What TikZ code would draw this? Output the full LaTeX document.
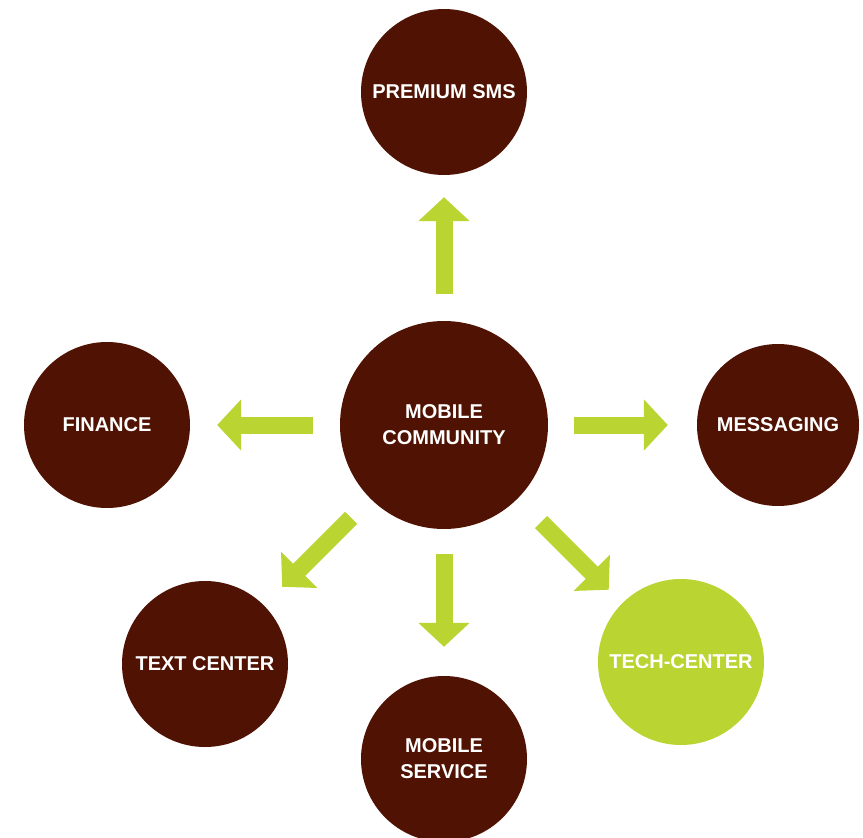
\documentclass[tikz,border=0pt]{standalone}
\usepackage{fontspec}
\setmainfont{Liberation Sans}
\usetikzlibrary{arrows.meta}
\definecolor{hubbrown}{RGB}{80,18,2}
\definecolor{leaflime}{RGB}{186,212,50}
\begin{document}
\begin{tikzpicture}
[
 x=1pt, y=-1pt,
 >={Triangle[width=50pt,length=24pt]},
 align=center,
 font=\fontsize{20}{26}\selectfont\bfseries,
 hub/.style={circle,fill=hubbrown,text=white,inner sep=0pt,minimum size=208pt},
 leaf/.style={circle,fill=hubbrown,text=white,inner sep=0pt,minimum size=166pt},
 lit/.style={leaf,fill=leaflime},
 link/.style={draw=leaflime,line width=17pt,->,shorten <=27pt,shorten >=27pt}
]
\useasboundingbox (0,0) rectangle (863,838);
\node (mobile-community) [hub] at (444,425) {MOBILE\\COMMUNITY};
\node (premium-sms) [leaf] at (444,92) {PREMIUM SMS};
\node (finance) [leaf] at (107,425) {FINANCE};
\node (messaging) [leaf,minimum size=162pt] at (778,425) {MESSAGING};
\node (text-center) [leaf] at (205,664) {TEXT CENTER};
\node (mobile-service) [leaf] at (444,759) {MOBILE\\SERVICE};
\node (tech-center) [lit] at (681,662) {TECH-CENTER};
\draw[link,shorten >=22pt] (mobile-community) -- (premium-sms);
\draw[link] (mobile-community) -- (finance);
\draw[link,shorten <=26pt,shorten >=29pt] (mobile-community) -- (messaging);
\draw[link,shorten <=25pt,shorten >=29pt] (mobile-community) -- (mobile-service);
\draw[link,shorten >=26pt] (mobile-community) -- (text-center);
\draw[link,shorten <=33pt,shorten >=19pt] (mobile-community) -- (tech-center);
\end{tikzpicture}
\end{document}
